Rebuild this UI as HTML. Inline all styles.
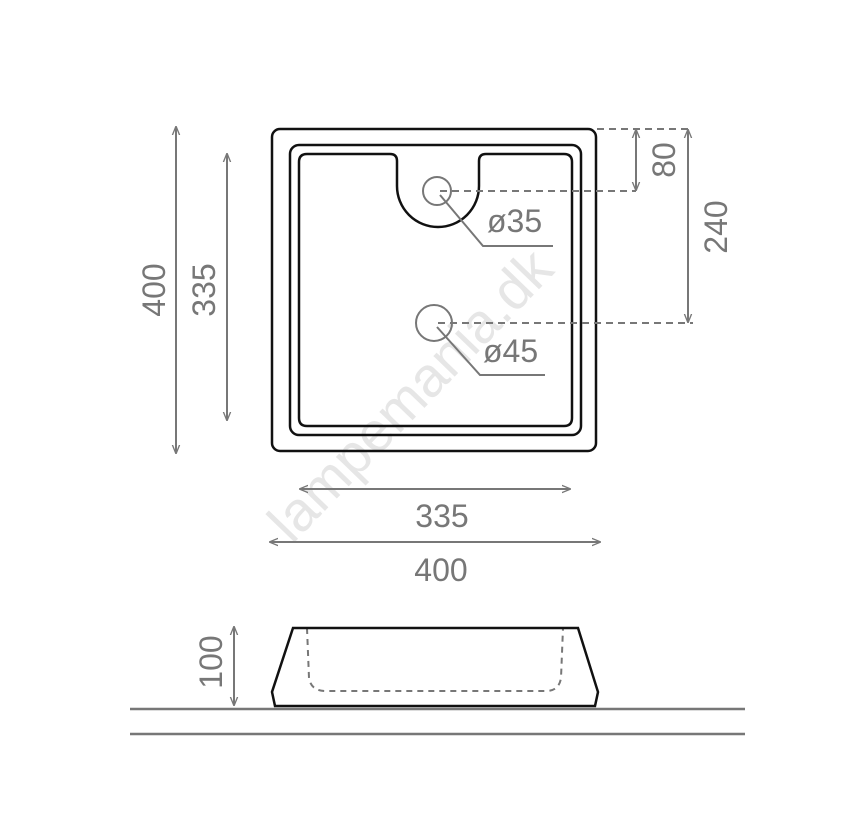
<!DOCTYPE html>
<html><head><style>html,body{margin:0;padding:0;background:#fff}svg{display:block}</style></head>
<body>
<svg width="845" height="814" viewBox="0 0 845 814" xmlns="http://www.w3.org/2000/svg" font-family="Liberation Sans, sans-serif">
<defs>
<marker id="a" viewBox="0 0 10 10" refX="9" refY="5" markerWidth="9" markerHeight="9" orient="auto-start-reverse" markerUnits="userSpaceOnUse"><path d="M0,1 L10,5 L0,9" fill="none" stroke="#777" stroke-width="1.5"/></marker>
</defs>
<text x="0" y="0" transform="translate(292,545) rotate(-46)" font-size="56" fill="#e6e6e6">lampemania.dk</text>
<g fill="none" stroke="#111" stroke-width="2.5">
<rect x="272" y="129" width="324" height="322" rx="8"/>
<rect x="290" y="145" width="291" height="290" rx="9"/>
<path d="M307,154 H390 Q397,154 397,161 V186 A41,41 0 0 0 479,186 V161 Q479,154 486,154 H564 Q572,154 572,162 V418 Q572,426 564,426 H307 Q299,426 299,418 V162 Q299,154 307,154 Z"/>
</g>
<g fill="none" stroke="#777" stroke-width="2">
<circle cx="437" cy="191" r="14"/>
<circle cx="434" cy="323" r="18"/>
<path d="M440,195 L483,246 H553"/>
<path d="M437,327 L480,375 H545"/>
<g stroke-dasharray="7,5">
<path d="M597,129 H693"/>
<path d="M440,191 H636"/>
<path d="M438,323 H693"/>
</g>
<line x1="636" y1="130" x2="636" y2="190" marker-start="url(#a)" marker-end="url(#a)"/>
<line x1="688" y1="130" x2="688" y2="322" marker-start="url(#a)" marker-end="url(#a)"/>
<line x1="176" y1="127" x2="176" y2="453" marker-start="url(#a)" marker-end="url(#a)"/>
<line x1="227" y1="154" x2="227" y2="420" marker-start="url(#a)" marker-end="url(#a)"/>
<line x1="300" y1="489" x2="570" y2="489" marker-start="url(#a)" marker-end="url(#a)"/>
<line x1="270" y1="542" x2="600" y2="542" marker-start="url(#a)" marker-end="url(#a)"/>
<line x1="234" y1="627" x2="234" y2="705" marker-start="url(#a)" marker-end="url(#a)"/>
<path d="M130,709 H745 M130,734 H745" stroke-width="2.5"/>
<path d="M307,628 L309,678 Q311,691 326,691 H546 Q559,691 561,678 L563,628" stroke-dasharray="6,5"/>
</g>
<path d="M293,628 H578 L598,692 L595,706 H275 L272,692 Z" fill="none" stroke="#111" stroke-width="2.5"/>
<g fill="#777" font-size="32">
<text x="487" y="232">ø35</text>
<text x="483" y="362">ø45</text>
<text x="442" y="527" text-anchor="middle">335</text>
<text x="441" y="581" text-anchor="middle">400</text>
<text transform="translate(675,160) rotate(-90)" text-anchor="middle">80</text>
<text transform="translate(727,227) rotate(-90)" text-anchor="middle">240</text>
<text transform="translate(165,290) rotate(-90)" text-anchor="middle">400</text>
<text transform="translate(215,290) rotate(-90)" text-anchor="middle">335</text>
<text transform="translate(222,662) rotate(-90)" text-anchor="middle">100</text>
</g>
</svg>
</body></html>
